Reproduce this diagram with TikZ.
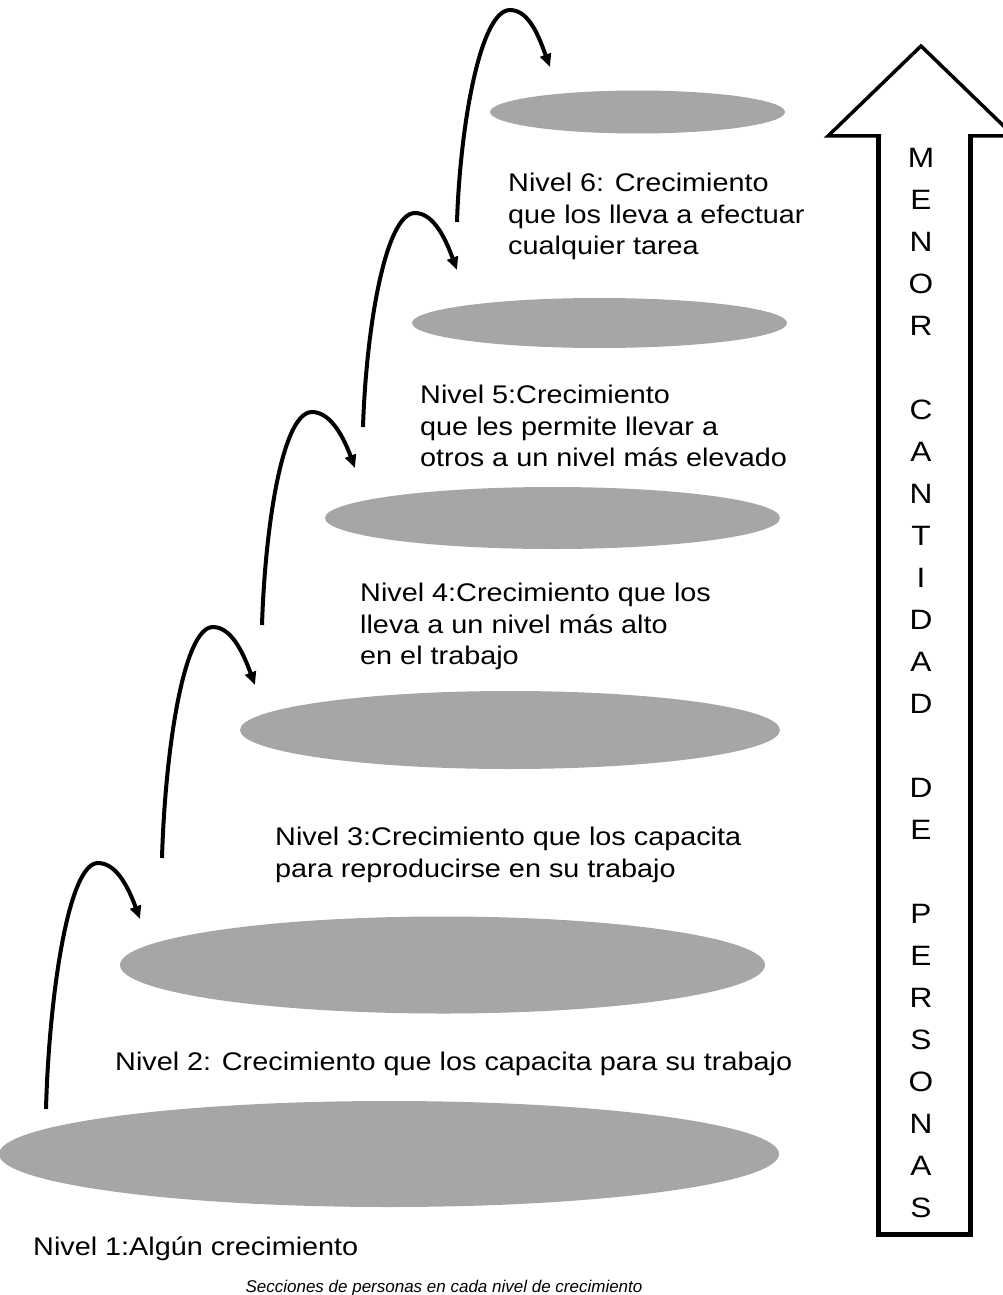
\documentclass[tikz,border=0pt]{standalone}
\usepackage{fontspec}
\setmainfont{Liberation Sans}
\newfontfamily\lvlfont{Liberation Sans}[FakeStretch=1.13]
\usetikzlibrary{shapes.geometric,arrows.meta}
\definecolor{discgray}{RGB}{166,166,166}
\begin{document}
\begin{tikzpicture}[x=1pt,y=-1pt,
  disc/.style={ellipse, fill=discgray, draw=none, inner sep=0pt},
  lvl/.style={anchor=north west, inner sep=0pt, align=left, font=\lvlfont\fontsize{25.5}{31.5}\selectfont},
  jump/.style={line width=4pt, -{Triangle[length=13pt,width=11pt]}},
  colletter/.style={anchor=base, inner sep=0pt, font=\lvlfont\fontsize{28}{28}\selectfont},
  captionstyle/.style={anchor=base, inner sep=0pt, font=\itshape\fontsize{17}{17}\selectfont}
]
\useasboundingbox (0,0) rectangle (1003,1295);

% discs (levels)
\node[disc, minimum width=295pt, minimum height=43pt]  (e6) at (637.5,112) {};
\node[disc, minimum width=375pt, minimum height=50pt]  (e5) at (599.5,323) {};
\node[disc, minimum width=455pt, minimum height=62pt]  (e4) at (552.5,518) {};
\node[disc, minimum width=540pt, minimum height=78pt]  (e3) at (510,730) {};
\node[disc, minimum width=645pt, minimum height=97pt]  (e2) at (442.5,965) {};
\node[disc, minimum width=780pt, minimum height=106pt] (e1) at (389,1154) {};

% jump arrows
\coordinate (b1) at (46,1109);  \coordinate (p1) at (98,863);  \coordinate (t1) at (140,919);
\coordinate (b2) at (162,858);  \coordinate (p2) at (213,627); \coordinate (t2) at (255,685);
\coordinate (b3) at (262,625);  \coordinate (p3) at (312,412); \coordinate (t3) at (355,468);
\coordinate (b4) at (363,427);  \coordinate (p4) at (415,213); \coordinate (t4) at (457,270);
\coordinate (b5) at (457,222);  \coordinate (p5) at (510,10);  \coordinate (t5) at (550,67);

\draw[jump] (b1) .. controls +(3,-111) and +(-30,0) .. (p1) .. controls +(20,0) and +(-10,-27) .. (t1);
\draw[jump] (b2) .. controls +(3,-104) and +(-30,0) .. (p2) .. controls +(20,0) and +(-10,-27) .. (t2);
\draw[jump] (b3) .. controls +(3,-96) and +(-30,0) .. (p3) .. controls +(20,0) and +(-10,-27) .. (t3);
\draw[jump] (b4) .. controls +(3,-96) and +(-30,0) .. (p4) .. controls +(20,0) and +(-10,-27) .. (t4);
\draw[jump] (b5) .. controls +(3,-95) and +(-30,0) .. (p5) .. controls +(20,0) and +(-10,-27) .. (t5);

% level texts
\node[lvl] (n6) at (508,173) {Nivel 6: Crecimiento\\que los lleva a efectuar\\cualquier tarea};
\node[lvl] (n5) at (420,385) {Nivel 5:Crecimiento\\que les permite llevar a\\otros a un nivel más elevado};
\node[lvl] (n4) at (360,583) {Nivel 4:Crecimiento que los\\lleva a un nivel más alto\\en el trabajo};
\node[lvl] (n3) at (275,827) {Nivel 3:Crecimiento que los capacita\\para reproducirse en su trabajo};
\node[lvl] (n2) at (115,1052) {Nivel 2: Crecimiento que los capacita para su trabajo};
\node[lvl] (n1) at (33,1237) {Nivel 1:Algún crecimiento};

\node[captionstyle] (cap) at (444,1292) {Secciones de personas en cada nivel de crecimiento};

% big upward arrow
\draw[line width=5.5pt] (878.5,136) -- (878.5,1234.5) -- (970.5,1234.5) -- (970.5,136);
\draw[line width=3.5pt] (881,136) -- (828,136) -- (921,46) -- (1014,136) -- (968,136);

\foreach \ch/\s in {M/0,E/1,N/2,O/3,R/4,C/6,A/7,N/8,T/9,I/10,D/11,A/12,D/13,D/15,E/16,P/18,E/19,R/20,S/21,O/22,N/23,A/24,S/25}
  \node[colletter] (c\s) at (921,{167+42*\s}) {\ch};
\end{tikzpicture}
\end{document}
